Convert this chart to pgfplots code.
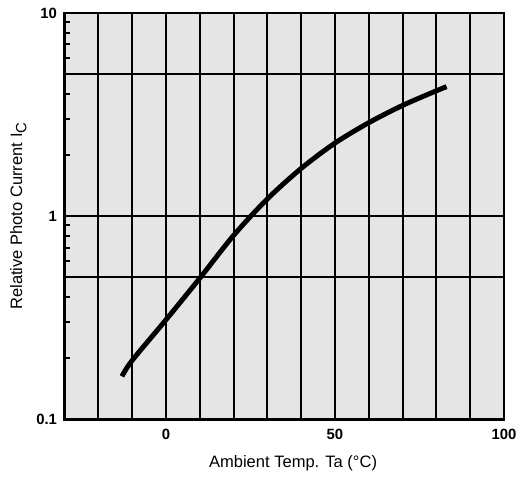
\documentclass[border=0pt]{standalone}
\usepackage{fontspec}
\setmainfont{Liberation Sans}
\usepackage{pgfplots}
\pgfplotsset{compat=1.18}
\begin{document}
\begin{tikzpicture}
\begin{axis}[
  scale only axis,
  width=266pt, height=246pt,
  ymode=log,
  xmin=-30, xmax=100,
  ymin=0.1, ymax=10,
  axis background/.style={fill=black!10},
  axis line style={line width=1.6pt},
  xtick={-20,-10,...,100},
  xticklabels={,,0,,,,,50,,,,,100},
  ytick={0.1,0.5,1,5,10},
  yticklabels={0.1,,1,,10},
  minor ytick={0.2,0.3,0.4,0.6,0.7,0.8,0.9,2,3,4,6,7,8,9},
  major tick length=0pt,
  minor tick length=3.6pt,
  tick align=inside,
  ytick pos=left,
  xtick pos=bottom,
  minor tick style={line width=1.2pt, black},
  grid=major,
  major grid style={line width=1.2pt, black},
  tick label style={font=\bfseries\fontsize{9}{10}\selectfont},
  xticklabel style={yshift=-2pt},
  yticklabel style={xshift=-1pt},
  xlabel={Ambient Temp. Ta (°C)},
  ylabel={Relative Photo Current I\raisebox{-0.5ex}{\fontsize{9}{10}\selectfont C}},
  label style={font=\fontsize{10}{12}\selectfont},
  xlabel style={at={(axis description cs:0.52,-0.107)}, anchor=center},
  ylabel style={at={(axis description cs:-0.105,0.5)}, anchor=center},
]
\addplot[black, line width=3pt, smooth, tension=0.5] coordinates {
  (-13,0.163) (-10,0.195) (0,0.309) (10,0.495) (20,0.804) (30,1.216)
  (40,1.718) (50,2.29) (60,2.884) (70,3.508) (80,4.14) (83,4.335)
};
\end{axis}
\path ([shift={(-39pt,-32.4pt)}]current axis.south west) rectangle ([shift={(8.4pt,7.8pt)}]current axis.north east);
\end{tikzpicture}
\end{document}
